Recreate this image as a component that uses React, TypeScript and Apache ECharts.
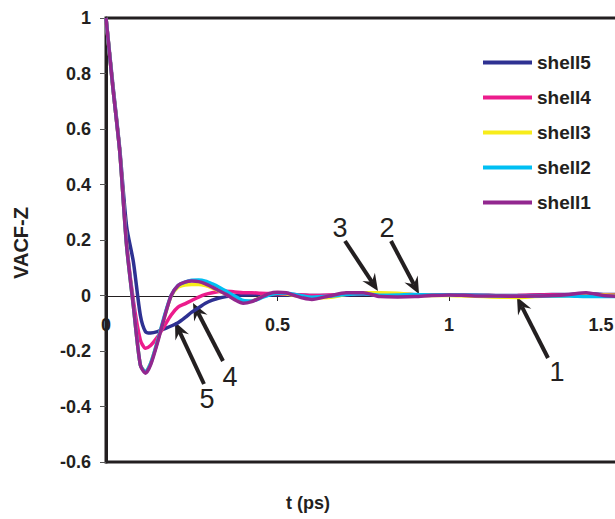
import React, { useEffect, useRef } from "react";
import * as echarts from "echarts";

const times = [0, 0.02, 0.04, 0.06, 0.08, 0.1, 0.115, 0.13, 0.15, 0.17, 0.19, 0.21, 0.23, 0.25, 0.27, 0.29, 0.31, 0.33, 0.35, 0.375, 0.4, 0.425, 0.45, 0.475, 0.5, 0.525, 0.55, 0.575, 0.6, 0.65, 0.7, 0.75, 0.8, 0.85, 0.9, 0.95, 1.0, 1.05, 1.1, 1.15, 1.2, 1.25, 1.3, 1.35, 1.4, 1.45, 1.5];

const shell5 = [1.0, 0.76, 0.53, 0.25, 0.12, -0.07, -0.13, -0.135, -0.13, -0.12, -0.11, -0.098, -0.08, -0.06, -0.044, -0.028, -0.017, -0.009, -0.004, 0.0, 0.002, 0.003, 0.003, 0.002, 0.002, 0.002, 0.002, 0.001, 0.0, 0.0, 0.002, 0.004, 0.004, 0.004, 0.003, 0.002, 0.002, 0.002, 0.001, 0.0, 0.0, 0.002, 0.004, 0.004, 0.006, 0.004, 0.004];
const shell4 = [1.0, 0.75, 0.52, 0.19, -0.02, -0.16, -0.19, -0.18, -0.15, -0.11, -0.07, -0.042, -0.03, -0.018, -0.006, 0.004, 0.01, 0.014, 0.015, 0.013, 0.01, 0.01, 0.008, 0.007, 0.006, 0.005, 0.004, 0.002, 0.0, 0.002, 0.004, 0.006, 0.005, 0.004, 0.003, 0.002, 0.002, 0.001, 0.0, -0.001, 0.0, 0.002, 0.003, 0.002, 0.004, 0.002, 0.001];
const shell3 = [1.0, 0.75, 0.52, 0.18, -0.04, -0.25, -0.275, -0.245, -0.165, -0.08, -0.002, 0.03, 0.038, 0.04, 0.04, 0.036, 0.027, 0.016, 0.005, -0.012, -0.022, -0.02, -0.008, 0.004, 0.008, 0.006, 0.0, -0.006, -0.008, -0.007, 0.004, 0.01, 0.01, 0.008, 0.002, 0.0, 0.0, -0.002, -0.004, -0.006, -0.007, -0.004, -0.002, 0.0, 0.004, 0.002, 0.0];
const shell2 = [1.0, 0.75, 0.52, 0.18, -0.04, -0.25, -0.275, -0.245, -0.165, -0.075, 0.0, 0.036, 0.048, 0.055, 0.056, 0.052, 0.042, 0.03, 0.016, -0.002, -0.018, -0.02, -0.01, 0.002, 0.008, 0.008, 0.004, -0.002, -0.006, -0.003, 0.004, 0.006, 0.001, 0.002, 0.004, 0.002, 0.003, 0.001, 0.0, -0.002, -0.003, -0.002, -0.002, -0.002, -0.004, -0.004, -0.003];
const shell1 = [1.0, 0.75, 0.52, 0.18, -0.04, -0.25, -0.28, -0.25, -0.17, -0.08, 0.0, 0.036, 0.048, 0.052, 0.05, 0.042, 0.03, 0.017, 0.004, -0.015, -0.028, -0.022, -0.008, 0.007, 0.012, 0.01, 0.0, -0.009, -0.014, -0.002, 0.01, 0.01, -0.004, -0.005, -0.004, 0.0, 0.002, 0.0, -0.002, -0.002, -0.003, -0.002, 0.0, 0.004, 0.01, 0.0, -0.003];

const seriesNames = ["shell5", "shell4", "shell3", "shell2", "shell1"];
const seriesValues = [shell5, shell4, shell3, shell2, shell1];
const seriesColors = ["#2E3192", "#EC1C8C", "#F7EC1A", "#00BFF3", "#92278F"];

const arrowLabels = ["1", "2", "3", "4", "5"];

const INK = "#231F20";
const FONT = "'Liberation Sans', Arial, Helvetica, sans-serif";

// annotation layout (pixels): label position, tail, tip
const arrowLayout = [
  { label: [557, 372], tail: [548, 358], tip: [517, 297] },
  { label: [387, 228], tail: [391, 241], tip: [419, 294] },
  { label: [340, 228], tail: [345, 241], tip: [378, 291] },
  { label: [230, 377], tail: [223, 361], tip: [193, 303] },
  { label: [207, 399], tail: [204, 384], tip: [175, 322] },
];

function buildArrow(i: number) {
  const a = arrowLayout[i];
  const [tx, ty] = a.tail;
  const [hx, hy] = a.tip;
  const len = Math.hypot(hx - tx, hy - ty);
  const dx = (hx - tx) / len;
  const dy = (hy - ty) / len;
  const nx = -dy;
  const ny = dx;
  const headLen = 17;
  const halfW = 7.5;
  const notch = 11;
  return [
    {
      type: "line",
      shape: { x1: tx, y1: ty, x2: hx - dx * notch, y2: hy - dy * notch },
      style: { stroke: INK, lineWidth: 4 },
      silent: true,
    },
    {
      type: "polygon",
      shape: {
        points: [
          [hx, hy],
          [hx - dx * headLen + nx * halfW, hy - dy * headLen + ny * halfW],
          [hx - dx * notch, hy - dy * notch],
          [hx - dx * headLen - nx * halfW, hy - dy * headLen - ny * halfW],
        ],
      },
      style: { fill: INK },
      silent: true,
    },
    {
      type: "text",
      x: a.label[0],
      y: a.label[1],
      style: {
        text: arrowLabels[i],
        fill: INK,
        font: `normal 27px ${FONT}`,
        align: "center",
        verticalAlign: "middle",
      },
      silent: true,
    },
  ];
}

function fmt(v: number) {
  const r = Math.round(v * 10) / 10;
  return String(r);
}

export default function App() {
  const ref = useRef<HTMLDivElement>(null);

  useEffect(() => {
    if (!ref.current) return;
    const chart = echarts.init(ref.current, null, { renderer: "svg" });

    const series = seriesNames.map((name, k) => ({
      name,
      type: "line",
      data: times.map((t, i) => [t, seriesValues[k][i]]),
      symbol: "none",
      smooth: 0.25,
      lineStyle: { color: seriesColors[k], width: 3.5 },
      itemStyle: { color: seriesColors[k] },
      z: 2 + k,
    }));

    const graphics: any[] = [];
    for (let i = 0; i < arrowLayout.length; i++) graphics.push(...buildArrow(i));
    graphics.push({
      type: "text",
      x: 21,
      y: 243,
      rotation: Math.PI / 2,
      style: {
        text: "VACF-Z",
        fill: INK,
        font: `bold 20px ${FONT}`,
        align: "center",
        verticalAlign: "middle",
      },
    });
    graphics.push({
      type: "text",
      x: 308,
      y: 503,
      style: {
        text: "t (ps)",
        fill: INK,
        font: `bold 18px ${FONT}`,
        align: "center",
        verticalAlign: "middle",
      },
    });

    const labelFont = { color: INK, fontWeight: "bold", fontSize: 18, fontFamily: FONT };

    chart.setOption({
      animation: false,
      backgroundColor: "#ffffff",
      grid: {
        left: 106,
        top: 18,
        right: -5.5,
        bottom: 57,
        show: true,
        borderColor: INK,
        borderWidth: 3,
        backgroundColor: "transparent",
        containLabel: false,
        outerBoundsMode: "none",
      },
      legend: {
        orient: "vertical",
        left: 483,
        top: 53,
        itemWidth: 49,
        itemHeight: 4,
        itemGap: 16,
        icon: "rect",
        padding: 0,
        data: seriesNames,
        textStyle: {
          color: INK,
          fontWeight: "bold",
          fontSize: 19,
          fontFamily: FONT,
          padding: [0, 0, 0, 0],
        },
      },
      xAxis: {
        type: "value",
        min: 0,
        max: 1.5,
        interval: 0.5,
        position: "bottom",
        offset: -166,
        axisLine: { show: true, onZero: false, lineStyle: { color: INK, width: 1 } },
        axisTick: { show: true, length: 5, inside: false, lineStyle: { color: INK, width: 1 } },
        axisLabel: {
          margin: 20,
          ...labelFont,
          alignMaxLabel: "right",
          formatter: (v: number) => (v >= 1.5 ? `{m|${fmt(v)}}` : fmt(v)),
          rich: {
            m: { ...labelFont, padding: [0, 7, 0, 0] },
          },
        },
        splitLine: { show: false },
      },
      yAxis: {
        type: "value",
        min: -0.6,
        max: 1,
        interval: 0.2,
        axisLine: { show: true, onZero: false, lineStyle: { color: INK, width: 3 } },
        axisTick: { show: true, length: 6, inside: false, lineStyle: { color: "#555", width: 1 } },
        axisLabel: {
          margin: 15,
          ...labelFont,
          formatter: (v: number) => fmt(v),
        },
        splitLine: { show: false },
      },
      series,
      graphic: graphics,
    });

    return () => {
      chart.dispose();
    };
  }, []);

  return (
    <div
      ref={ref}
      style={{ position: "fixed", left: 0, top: 0, width: 615, height: 519, background: "#fff" }}
    />
  );
}
